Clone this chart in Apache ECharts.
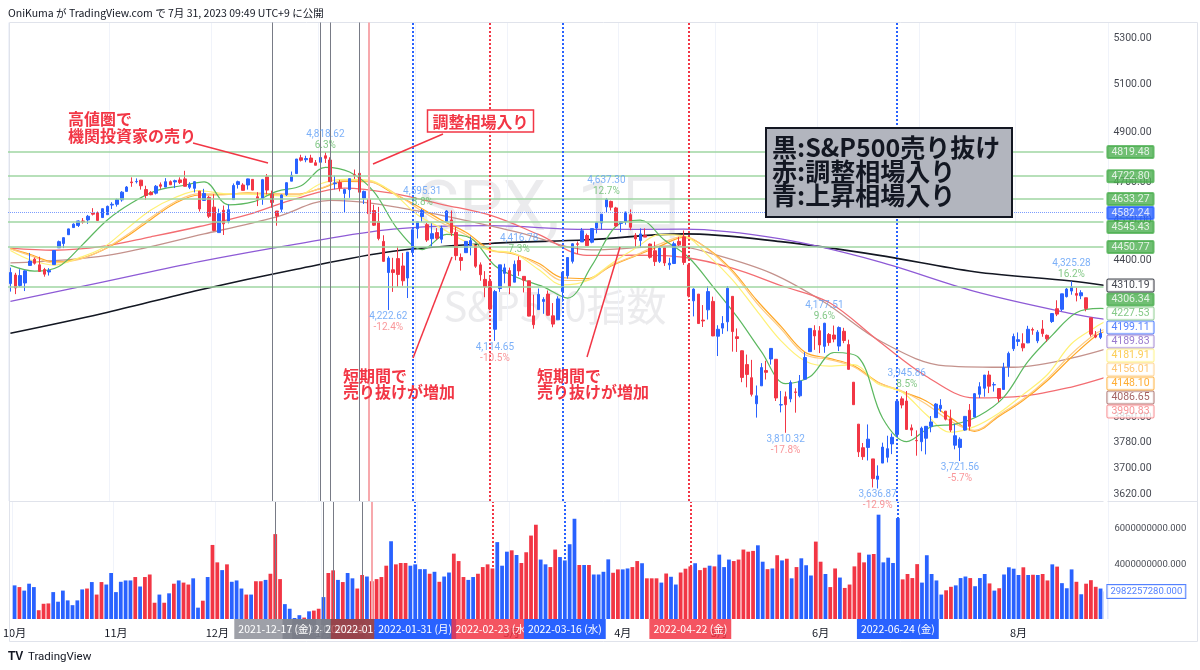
<!DOCTYPE html>
<html><head><meta charset="utf-8"><title>SPX 1日</title>
<script src="https://cdn.jsdelivr.net/npm/echarts@6.0.0/dist/echarts.min.js"></script>
<style>html,body{margin:0;padding:0;background:#fff;}#chart{width:1200px;height:670px;}</style>
</head><body><div id="chart"></div>
<script>
// ---------- DATA ----------
const tradingDays = {
 '2021-10':[1,4,5,6,7,8,11,12,13,14,15,18,19,20,21,22,25,26,27,28,29],
 '2021-11':[1,2,3,4,5,8,9,10,11,12,15,16,17,18,19,22,23,24,26,29,30],
 '2021-12':[1,2,3,6,7,8,9,10,13,14,15,16,17,20,21,22,23,27,28,29,30,31],
 '2022-01':[3,4,5,6,7,10,11,12,13,14,18,19,20,21,24,25,26,27,28,31],
 '2022-02':[1,2,3,4,7,8,9,10,11,14,15,16,17,18,22,23,24,25,28],
 '2022-03':[1,2,3,4,7,8,9,10,11,14,15,16,17,18,21,22,23,24,25,28,29,30,31],
 '2022-04':[1,4,5,6,7,8,11,12,13,14,18,19,20,21,22,25,26,27,28,29],
 '2022-05':[2,3,4,5,6,9,10,11,12,13,16,17,18,19,20,23,24,25,26,27,31],
 '2022-06':[1,2,3,6,7,8,9,10,13,14,15,16,17,21,22,23,24,27,28,29,30],
 '2022-07':[1,5,6,7,8,11,12,13,14,15,18,19,20,21,22,25,26,27,28,29],
 '2022-08':[1,2,3,4,5,8,9,10,11,12,15,16,17,18,19,22,23,24,25]
};
const opens = [
 4317,4348,4310,4319,4383,4406,4385,4368,4359,4386,4448,4464,4497,4524,4532,4549,4553,4579,4580,4562,4573,
 4610,4613,4630,4663,4700,4701,4707,4670,4659,4656,4689,4680,4701,4700,4708,4712,4679,4675,4664,4628,4640,
 4602,4505,4590,4548,4631,4690,4688,4688,4710,4642,4636,4720,4652,4587,4594,4650,4703,4733,4796,4788,4795,4776,
 4778,4804,4787,4693,4698,4655,4670,4728,4734,4637,4632,4589,4547,4472,4357,4367,4408,4381,4337,4431,
 4520,4566,4535,4482,4505,4480,4547,4553,4506,4412,4430,4456,4456,4385,4332,4325,4155,4299,4354,
 4364,4322,4401,4343,4327,4202,4224,4253,4279,4202,4188,4288,4345,4398,4463,4470,4494,4469,4522,4541,4603,4624,4599,
 4540,4547,4573,4495,4475,4494,4462,4437,4398,4449,4385,4390,4472,4489,4385,4255,4279,4187,4223,4253,
 4131,4159,4181,4271,4129,4081,4034,3990,3904,3963,4014,4053,4052,3900,3927,3920,3943,3930,3985,4078,4151,
 4150,4096,4137,4135,4097,4148,4102,3975,3838,3763,3764,3728,3665,3715,3733,3775,3805,3920,3913,3826,3786,
 3782,3793,3831,3859,3888,3880,3855,3771,3764,3819,3883,3861,3935,3955,3999,3966,3954,3951,4027,4088,
 4113,4105,4108,4154,4115,4156,4134,4182,4227,4225,4270,4290,4281,4273,4266,4195,4134,4127,4154
];
const highs = [
 4375,4356,4369,4365,4429,4412,4415,4374,4373,4439,4475,4487,4520,4540,4551,4560,4572,4598,4585,4597,4608,
 4621,4635,4664,4684,4718,4714,4708,4685,4664,4688,4698,4715,4706,4709,4718,4744,4699,4703,4664,4673,4646,
 4652,4596,4608,4613,4694,4705,4695,4713,4711,4660,4712,4731,4666,4587,4651,4698,4741,4791,4808,4804,4808,4787,
 4797,4818.62,4798,4725,4708,4673,4714,4749,4745,4666,4632,4611,4603,4495,4417,4411,4453,4429,4432,4516,
 4546,4595.31,4542,4540,4522,4531,4590,4589,4527,4427,4473,4490,4457,4394,4362,4340,4294,4385,4389,
 4375,4401,4416.78,4343,4327,4277,4299,4268,4292,4247,4271,4358,4412,4465,4472,4522,4501,4520,4546,4575,4637.30,4627,4603,
 4548,4584,4593,4503,4521,4521,4464,4471,4453,4452,4411,4471,4489,4513,4386,4300,4279,4240,4308,4270,
 4169,4201,4308,4271,4158,4082,4068,4050,3964,4039,4047,4090,4052,3946,3944,3981,3955,3999,4076,4158,4169,
 4166,4177.51,4142,4168,4165,4160,4119,3975,3838,3778,3837,3728,3708,3779,3801,3808,3913,3928,3945.86,3837,3818,
 3830,3832,3864,3906,3919,3880,3885,3839,3796,3864,3903,3939,3975,3999,4013,3975,3954,4040,4078,4140,
 4144,4141,4167,4161,4152,4187,4137,4211,4257,4280,4301,4325.28,4302,4293,4266,4195,4149,4157,4203
];
const lows = [
 4288,4279,4305,4290,4383,4386,4360,4342,4346,4386,4448,4447,4496,4524,4526,4539,4538,4570,4551,4562,4573,
 4595,4604,4623,4663,4681,4694,4670,4630,4648,4651,4673,4680,4688,4676,4692,4682,4672,4659,4585,4626,4560,
 4510,4505,4496,4540,4631,4674,4666,4670,4667,4606,4611,4651,4600,4531,4583,4645,4703,4733,4781,4778,4776,4766,
 4758,4775,4700,4671,4663,4582,4638,4712,4650,4614,4568,4530,4476,4396,4222.62,4287,4305,4309,4265,4415,
 4483,4544,4470,4451,4477,4465,4547,4492,4402,4364,4430,4420,4374,4327,4268,4222,4114.65,4287,4318,
 4279,4322,4345,4285,4200,4157,4224,4209,4202,4162,4188,4252,4335,4390,4425,4470,4455,4465,4502,4517,4581,4589,4527,
 4507,4535,4514,4451,4450,4488,4408,4381,4392,4381,4367,4388,4455,4385,4267,4200,4175,4163,4189,4131,
 4063,4139,4148,4078,4077,3975,3958,3928,3859,3963,3984,4034,3913,3876,3810.32,3909,3875,3925,3985,4078,4084,
 4073,4074,4098,4110,4080,4107,4017,3901,3734,3725,3723,3640,3636.87,3715,3717,3743,3805,3889,3820,3800,3738,
 3752,3742,3812,3859,3878,3850,3813,3758,3721.56,3817,3818,3861,3923,3927,3939,3944,3910,3951,3993,4080,
 4097,4079,4107,4136,4107,4129,4112,4177,4201,4219,4267,4277,4253,4261,4218,4130,4124,4121,4148
];
const closes = [
 4357,4301,4346,4363,4399,4391,4361,4351,4364,4438,4471,4486,4519,4537,4549,4545,4567,4575,4551,4596,4605,
 4613,4631,4660,4680,4697,4702,4685,4647,4650,4683,4683,4701,4689,4705,4698,4683,4691,4701,4595,4655,4567,
 4513,4577,4538,4592,4686,4701,4667,4712,4668,4634,4709,4668,4620,4568,4649,4697,4726,4791,4786,4793,4778,4766,
 4797,4794,4701,4696,4677,4670,4713,4726,4660,4663,4577,4533,4483,4398,4410,4357,4350,4327,4432,4516,
 4546,4589,4477,4501,4484,4522,4587,4504,4419,4401,4472,4475,4380,4349,4305,4226,4288,4385,4374,
 4306,4387,4363,4329,4201,4171,4278,4260,4204,4173,4262,4358,4412,4463,4461,4512,4456,4520,4543,4575,4632,4602,4530,
 4546,4583,4525,4481,4500,4488,4413,4397,4447,4392,4391,4463,4459,4394,4272,4297,4175,4184,4288,4132,
 4155,4175,4300,4147,4123,3991,4001,3935,3930,4024,4008,4089,3923,3901,3901,3974,3941,3979,4058,4158,4132,
 4101,4176,4109,4121,4161,4116,4018,3901,3750,3735,3790,3667,3675,3765,3760,3796,3912,3900,3821,3819,3785,
 3825,3831,3845,3903,3899,3854,3819,3801,3790,3863,3831,3937,3960,3999,3962,3967,3921,4024,4072,4130,
 4119,4091,4155,4152,4145,4140,4122,4210,4208,4280,4297,4305,4275,4284,4228,4138,4128,4141,4199.11
];
// volume in billions of shares
const VOL_UNIT = 1e9;
const volumes = [
 3.19,3.13,3.01,3.25,3.13,2.42,2.60,2.61,2.96,2.66,3.01,2.70,2.56,2.70,3.05,3.08,3.31,2.88,3.31,3.22,
 3.66,2.96,3.32,3.37,3.37,3.50,3.15,3.50,3.60,2.63,2.88,2.63,2.92,3.25,3.37,3.29,3.22,3.45,2.49,2.69,
 3.50,5.00,4.12,3.78,4.03,3.32,3.37,3.08,2.88,2.88,3.34,3.34,3.39,3.63,5.64,3.42,2.59,2.46,2.22,2.29,
 2.23,2.39,2.41,2.46,2.80,3.66,3.77,3.39,3.31,3.66,3.45,3.08,3.58,3.52,3.34,3.42,3.50,3.97,5.21,4.03,
 4.09,4.09,3.97,4.03,3.82,3.82,3.63,3.71,3.32,3.52,3.68,4.54,4.18,3.50,3.39,3.50,3.63,3.91,4.03,3.85,
 5.16,3.97,4.64,4.71,4.47,4.09,4.61,5.55,6.26,4.25,4.03,3.91,4.75,4.37,4.21,5.04,6.69,4.00,4.00,4.00,
 3.60,3.60,
 3.71,4.26,3.67,3.81,3.81,3.85,3.91,4.18,4.08,3.45,3.45,3.45,3.29,3.64,3.51,3.22,3.68,3.84,3.94,4.08,
 3.78,3.88,3.97,3.94,4.49,3.91,4.25,4.18,4.25,4.75,4.64,4.68,4.98,4.15,3.82,3.85,4.46,4.21,4.29,3.45,
 3.91,4.31,3.99,3.56,5.19,4.15,3.62,3.13,3.85,3.48,3.10,3.22,3.94,4.59,4.12,4.49,4.52,7.00,4.12,4.34,
 4.09,6.74,3.41,3.62,3.46,4.04,3.29,4.46,3.62,3.37,2.88,3.02,3.14,3.19,3.46,3.52,3.46,3.16,3.46,3.62,
 3.26,3.01,3.09,3.60,3.90,3.84,3.58,3.90,3.58,3.59,3.58,3.62,3.37,4.03,3.93,3.27,3.09,3.81,3.32,2.89,
 3.25,3.38,3.14,3.08,2.98225728
];
// moving averages (sampled at bar indices)
const ma10Idx = [0,5,10,15,20,25,30,35,40,45,50,55,60,65,70,75,80,85,90,95,100,105,110,115,120,125,130,135,140,145,150,155,160,165,170,175,180,185,190,195,200,205,210,215,220,225,226];
const ma10 = [4383,4362,4379,4462,4553,4618,4665,4684,4700,4611,4622,4663,4685,4758,4739,4662,4516,4441,4498,4484,4382,4336,4305,4265,4382,4529,4552,4477,4412,4306,4198,4078,3970,3993,4075,4059,3858,3782,3829,3838,3866,3925,4044,4134,4213,4228,4227.53];
const maMidIdx = [0,4,9,14,19,24,29,34,39,44,49,54,59,64,69,74,79,84,89,94,99,104,109,114,119,124,129,134,139,144,149,154,159,164,169,174,179,184,189,194,199,204,209,214,219,224,226];
const ma21 = [4438,4404,4384,4410,4447,4519,4591,4639,4666,4654,4652,4647,4644,4693,4710,4707,4656,4573,4521,4471,4439,4427,4368,4312,4327,4389,4446,4497,4492,4420,4331,4221,4116,4046,4029,4034,3970,3943,3869,3812,3830,3873,3934,4000,4105,4163,4181.91];
const ma24 = [4444,4420,4392,4404,4440,4496,4562,4623,4654,4652,4655,4652,4650,4675,4706,4702,4660,4598,4542,4497,4438,4427,4383,4328,4329,4384,4420,4462,4491,4441,4359,4248,4157,4068,4051,4027,3974,3946,3903,3848,3818,3867,3919,3986,4070,4140,4156.01];
const ma25 = [4445,4424,4396,4406,4439,4490,4555,4617,4649,4650,4657,4653,4652,4674,4702,4701,4656,4606,4552,4506,4442,4424,4391,4338,4335,4381,4418,4454,4487,4444,4365,4258,4166,4076,4055,4031,3976,3944,3913,3859,3815,3863,3915,3980,4059,4132,4148.10];
const ma50Idx = [0,9,19,29,39,49,59,69,79,89,99,109,119,129,139,149,159,169,179,189,199,209,219,226];
const ma50 = [4447,4439,4453,4489,4528,4573,4635,4676,4655,4613,4571,4498,4420,4421,4413,4373,4310,4249,4117,3995,3923,3929,3959,3990.83];
const ma100Idx = [0,20,40,55,66,85,105,120,137,145,157,168,180,193,207,226];
const ma100 = [4392,4420,4500,4565,4628,4585,4505,4440,4455,4425,4355,4250,4110,4030,4025,4086.65];
const maLongIdx = [0,19,39,59,79,99,119,139,159,179,199,219,226];
const ma150 = [4253,4322,4397,4462,4518,4531,4517,4518,4481,4398,4289,4210,4189.83];
const ma200 = [4141,4210,4294,4369,4435,4464,4478,4500,4471,4421,4360,4326,4310.19];
// horizontal levels and current price
const hLevels = [4819.48,4722.80,4633.27,4545.43,4450.77,4306.34];
const currentPrice = 4582.24;
// vertical event lines
const eventDates  = ['2021-12-17','2022-01-03','2022-01-05','2022-01-13','2022-01-18','2022-01-31','2022-02-23','2022-03-16','2022-04-22','2022-06-24'];
const eventLabels = ['2021-12-17 (金)','2022-01-03 (月)','2022-01-05 (水)','2022-01-13 (木)','2022-01-18 (火)','2022-01-31 (月)','2022-02-23 (水)','2022-03-16 (水)','2022-04-22 (金)','2022-06-24 (金)'];
const eventKinds  = ['sell','sell','sell','sell','pink','up','adj','up','adj','up'];
// swing highs / lows
const swingDates  = ['2022-01-04','2022-01-24','2022-02-02','2022-02-24','2022-03-03','2022-03-29','2022-05-20','2022-06-02','2022-06-17','2022-06-28','2022-07-14','2022-08-16'];
const swingPrices = [4818.62,4222.62,4595.31,4114.65,4416.78,4637.30,3810.32,4177.51,3636.87,3945.86,3721.56,4325.28];
const swingPcts   = ['6.3%','-12.4%','8.8%','-10.5%','7.3%','12.7%','-17.8%','9.6%','-12.9%','8.5%','-5.7%','16.2%'];
const swingHigh   = [true,false,true,false,true,true,false,true,false,true,false,true];
// axis tick labels
const priceTicks = [5300,5100,4900,4700,4550,4400,3860,3780,3700,3620];
const volTicks = [4,6];

// ---------- BUILD ----------
const dates = [];
const monthStart = new Set();
Object.keys(tradingDays).forEach(ym => {
  tradingDays[ym].forEach((d, k) => {
    if (k === 0) monthStart.add(dates.length);
    dates.push(ym + '-' + String(d).padStart(2, '0'));
  });
});
const LAST = dates.length - 1;
const UP = '#2962ff', DOWN = '#f23645';
const FONT = 'Roboto, "Noto Sans", sans-serif';
const JP = '"Noto Sans CJK JP", "Noto Sans", sans-serif';

const candles = dates.map((d, i) => [opens[i], closes[i], lows[i], highs[i]]);
const volData = volumes.map((v, i) => ({ value: v * VOL_UNIT, itemStyle: { color: closes[i] >= opens[i] ? UP : DOWN } }));

const maDefs = [
  { idx: maLongIdx, val: ma200, color: '#131722', width: 1.6, box: ['#ffffff', '#131722', '#131722'] },
  { idx: maLongIdx, val: ma150, color: '#8e5bd6', width: 1.3, box: ['#ffffff', '#7e57c2', '#9575cd'] },
  { idx: ma100Idx, val: ma100, color: '#c4928c', width: 1.3, box: ['#ffffff', '#8d3b3b', '#a1605c'] },
  { idx: ma50Idx, val: ma50, color: '#f36d72', width: 1.3, box: ['#ffffff', '#f77c80', '#f77c80'] },
  { idx: maMidIdx, val: ma25, color: '#ffa726', width: 1.2, box: ['#ffffff', '#ff9800', '#ffa726'] },
  { idx: maMidIdx, val: ma24, color: '#ffcc80', width: 1.2, box: ['#ffffff', '#ffb74d', '#ffcc80'] },
  { idx: maMidIdx, val: ma21, color: '#fff176', width: 1.2, box: ['#ffffff', '#fbc02d', '#fff176'] },
  { idx: ma10Idx, val: ma10, color: '#5cb860', width: 1.2, box: ['#ffffff', '#66bb6a', '#81c784'] }
];

const maSeries = maDefs.map(m => ({
  type: 'line', xAxisIndex: 0, yAxisIndex: 0, z: 3, silent: true,
  data: m.idx.map((i, k) => [i, m.val[k]]),
  showSymbol: false, symbol: 'none', smooth: 0.35,
  lineStyle: { color: m.color, width: m.width }
}));

function mkBox(v, bg, fg, bd) {
  return { value: [LAST, v], label: { backgroundColor: bg, color: fg, borderColor: bd } };
}
const boxes = [];
hLevels.forEach(v => boxes.push(mkBox(v, '#4caf50', '#ffffff', '#4caf50')));
boxes.push(mkBox(currentPrice, '#2962ff', '#ffffff', '#2962ff'));
boxes.push(mkBox(closes[LAST], '#ffffff', '#2962ff', '#2962ff'));
maDefs.forEach(m => boxes.push(mkBox(m.val[m.val.length - 1], m.box[0], m.box[1], m.box[2])));

const evStyle = {
  sell: { line: { color: '#787b86', width: 1, type: 'solid' }, bg: 'rgba(120,123,134,0.72)' },
  pink: { line: { color: '#f7a9ad', width: 2, type: 'solid' }, bg: 'rgba(160,50,56,0.75)' },
  up:   { line: { color: '#2962ff', width: 2, type: 'dotted' }, bg: '#2962ff' },
  adj:  { line: { color: '#f23645', width: 2, type: 'dotted' }, bg: 'rgba(242,54,69,0.85)' }
};
// draw order for the date badges: the first black line's badge sits on top of the crowded January ones
const drawOrder = [1, 2, 3, 4, 0, 5, 6, 7, 8, 9];
const priceVLines = eventDates.map((d, k) => ({ xAxis: d, lineStyle: evStyle[eventKinds[k]].line }));
const volVLines = drawOrder.map(k => ({
  xAxis: eventDates[k], lineStyle: evStyle[eventKinds[k]].line,
  label: { show: true, position: 'start', distance: 0, formatter: eventLabels[k],
    backgroundColor: evStyle[eventKinds[k]].bg, color: '#ffffff', fontSize: 10.5, fontFamily: JP,
    padding: [4, 4, 4, 4], lineHeight: 12 }
}));

const fmtNum = v => v.toLocaleString('en-US', { minimumFractionDigits: 2, maximumFractionDigits: 2 });
const swingData = swingDates.map((d, k) => {
  const pc = swingPcts[k].startsWith('-') ? 'cd' : 'cu';
  return {
    value: [d, swingPrices[k]],
    label: { position: swingHigh[k] ? 'top' : 'bottom', distance: 1,
      formatter: '{v|' + fmtNum(swingPrices[k]) + '}\n{' + pc + '|' + swingPcts[k] + '}' }
  };
});

const monthInterval = (i) => monthStart.has(i);

const option = {
  backgroundColor: '#ffffff',
  animation: false,
  textStyle: { fontFamily: FONT },
  grid: [
    { left: 8, top: 22.5, width: 1099.8, height: 478.5 },
    { left: 8, top: 502, width: 1099.8, height: 117 }
  ],
  xAxis: [
    { type: 'category', gridIndex: 0, data: dates, boundaryGap: true,
      axisLine: { show: false }, axisTick: { show: false }, axisLabel: { show: false },
      splitLine: { show: true, interval: monthInterval, lineStyle: { color: '#f0f3fa' } } },
    { type: 'category', gridIndex: 1, data: dates, boundaryGap: true,
      axisLine: { show: false }, axisTick: { show: false },
      axisLabel: { show: true, interval: monthInterval, margin: 8, color: '#131722', fontSize: 11, fontFamily: JP,
        formatter: v => (+v.slice(5, 7)) + '月' },
      splitLine: { show: true, interval: monthInterval, lineStyle: { color: '#f0f3fa' } } }
  ],
  yAxis: [
    { type: 'log', logBase: 10, gridIndex: 0, position: 'right', min: 3599, max: 5370.6,
      axisLine: { show: false }, axisTick: { show: false }, axisLabel: { show: false }, splitLine: { show: false } },
    { type: 'log', logBase: 10, gridIndex: 1, position: 'right', min: 2.195e9, max: 8.06e9,
      axisLine: { show: false }, axisTick: { show: false }, axisLabel: { show: false }, splitLine: { show: false } }
  ],
  series: [
    { type: 'bar', xAxisIndex: 1, yAxisIndex: 1, data: volData, barWidth: '78%', z: 2, silent: true,
      markLine: { silent: true, symbol: ['none', 'none'], animation: false, data: volVLines } },
    { type: 'candlestick', xAxisIndex: 0, yAxisIndex: 0, data: candles, barWidth: '62%', z: 3, silent: true,
      itemStyle: { color: UP, color0: DOWN, borderColor: UP, borderColor0: DOWN, borderWidth: 1 },
      markLine: { silent: true, symbol: ['none', 'none'], animation: false, label: { show: false },
        data: hLevels.map(v => ({ yAxis: v, lineStyle: { color: '#9fd6a2', width: 1.5, type: 'solid' } }))
          .concat([{ yAxis: currentPrice, lineStyle: { color: '#7b9cff', width: 1, type: 'dotted' } }])
          .concat(priceVLines) } },
    ...maSeries,
    { type: 'scatter', xAxisIndex: 0, yAxisIndex: 0, z: 6, silent: true, symbolSize: 0, data: swingData,
      label: { show: true, fontSize: 10, fontFamily: FONT, align: 'center',
        rich: { v: { color: '#5b9cf6', fontSize: 10, lineHeight: 11 },
                cu: { color: '#66bb6a', fontSize: 10, lineHeight: 11 },
                cd: { color: '#f77c80', fontSize: 10, lineHeight: 11 } } } },
    { type: 'scatter', xAxisIndex: 0, yAxisIndex: 0, z: 8, silent: true, symbolSize: 0,
      data: priceTicks.map(v => [LAST, v]),
      label: { show: true, position: 'right', distance: 8, color: '#131722', fontSize: 10.5, fontFamily: FONT,
        formatter: p => p.value[1].toFixed(2) } },
    { id: 'boxes', type: 'scatter', xAxisIndex: 0, yAxisIndex: 0, z: 10, silent: true, symbolSize: 0, data: boxes,
      label: { show: true, position: 'right', distance: 2, fontSize: 10.5, fontFamily: FONT, lineHeight: 10,
        padding: [1, 4, 1, 4], borderWidth: 1, borderRadius: 1,
        formatter: p => p.value[1].toFixed(2) } },
    { type: 'scatter', xAxisIndex: 1, yAxisIndex: 1, z: 8, silent: true, symbolSize: 0,
      data: volTicks.map(v => [LAST, v * VOL_UNIT]),
      label: { show: true, position: 'right', distance: 9, color: '#131722', fontSize: 9.5, fontFamily: FONT,
        formatter: p => p.value[1].toFixed(3) } },
    { type: 'scatter', xAxisIndex: 1, yAxisIndex: 1, z: 10, silent: true, symbolSize: 0,
      data: [[LAST, volumes[LAST] * VOL_UNIT]],
      label: { show: true, position: 'right', distance: 2, fontSize: 9.5, fontFamily: FONT, lineHeight: 11,
        padding: [1, 3, 1, 3], borderWidth: 1, borderColor: '#2962ff', color: '#2962ff', backgroundColor: '#ffffff',
        formatter: p => Math.round(p.value[1]).toFixed(3) } }
  ],
  graphic: { elements: [
    // watermark
    { type: 'text', z: 0, silent: true, x: 552, y: 212, style: { text: 'SPX, 1日', fill: 'rgba(120,123,134,0.15)',
      font: '70px ' + FONT, align: 'center', verticalAlign: 'middle' } },
    { type: 'text', z: 0, silent: true, x: 555, y: 306, style: { text: 'S&P500指数', fill: 'rgba(120,123,134,0.15)',
      font: '40px ' + JP, align: 'center', verticalAlign: 'middle' } },
    // frame
    { type: 'rect', z: 1, silent: true, shape: { x: 9.5, y: 22.5, width: 1188, height: 619 },
      style: { fill: null, stroke: '#e0e3eb', lineWidth: 1 } },
    { type: 'line', z: 1, silent: true, shape: { x1: 9.5, y1: 501.5, x2: 1197.5, y2: 501.5 },
      style: { stroke: '#e0e3eb', lineWidth: 1 } },
    // price-scale cover
    { type: 'rect', z: 7, silent: true, shape: { x: 1103.5, y: 23, width: 4, height: 596 }, style: { fill: '#ffffff' } },
    // header / footer
    { type: 'text', z: 20, x: 8, y: 13, style: { text: 'OniKuma が TradingView.com で 7月 31, 2023 09:49 UTC+9 に公開',
      fill: '#131722', font: '10.5px ' + JP, verticalAlign: 'middle' } },
    { type: 'text', z: 20, x: 8, y: 657, style: { text: 'TV', fill: '#131722', font: '900 12px Arial, sans-serif', verticalAlign: 'middle' } },
    { type: 'text', z: 20, x: 28, y: 657, style: { text: 'TradingView', fill: '#131722', font: '11.5px ' + FONT, verticalAlign: 'middle' } },
    // annotations
    { type: 'text', z: 20, x: 68, y: 111, style: { text: '高値圏で\n機関投資家の売り', fill: '#f23645',
      font: 'bold 16px ' + JP, lineHeight: 16.5 } },
    { type: 'line', z: 20, shape: { x1: 193, y1: 143, x2: 268, y2: 163 }, style: { stroke: '#f23645', lineWidth: 1.5 } },
    { type: 'rect', z: 20, shape: { x: 427.5, y: 110, width: 106, height: 22 }, style: { fill: '#ffffff', stroke: '#f23645', lineWidth: 1.5 } },
    { type: 'text', z: 21, x: 480.5, y: 121.5, style: { text: '調整相場入り', fill: '#f23645', font: 'bold 16px ' + JP,
      align: 'center', verticalAlign: 'middle' } },
    { type: 'line', z: 20, shape: { x1: 443, y1: 134, x2: 373, y2: 164 }, style: { stroke: '#f23645', lineWidth: 1.5 } },
    { type: 'text', z: 20, x: 343, y: 368.5, style: { text: '短期間で\n売り抜けが増加', fill: '#f23645',
      font: 'bold 16px ' + JP, lineHeight: 15.5 } },
    { type: 'line', z: 20, shape: { x1: 413, y1: 358, x2: 452, y2: 257 }, style: { stroke: '#f23645', lineWidth: 1.5 } },
    { type: 'text', z: 20, x: 537, y: 368.5, style: { text: '短期間で\n売り抜けが増加', fill: '#f23645',
      font: 'bold 16px ' + JP, lineHeight: 15.5 } },
    { type: 'line', z: 20, shape: { x1: 587, y1: 357, x2: 620, y2: 247 }, style: { stroke: '#f23645', lineWidth: 1.5 } },
    // legend box
    { type: 'rect', z: 20, shape: { x: 766, y: 128, width: 246, height: 89 }, style: { fill: '#b2b5be', stroke: '#131722', lineWidth: 2 } },
    { type: 'text', z: 21, x: 772, y: 135, style: { text: '黒:S&P500売り抜け\n赤:調整相場入り\n青:上昇相場入り',
      fill: '#131722', font: 'bold 25px ' + JP, lineHeight: 24 } }
  ] }
};

const chart = echarts.init(document.getElementById('chart'), null, { renderer: 'canvas' });
chart.setOption(option);

// stack the right-hand value badges like the price scale does (no overlaps, pushed downward)
const BOX_H = 14;
const placed = boxes.map((b, k) => ({ k, y: chart.convertToPixel({ seriesId: 'boxes' }, b.value)[1] }))
  .sort((a, b) => a.y - b.y);
let lastBottom = -Infinity;
placed.forEach(o => {
  let top = o.y - BOX_H / 2;
  if (top < lastBottom) top = lastBottom;
  lastBottom = top + BOX_H;
  boxes[o.k].label.offset = [0, top + BOX_H / 2 - o.y];
});
chart.setOption({ series: [{ id: 'boxes', data: boxes }] });
</script></body></html>
